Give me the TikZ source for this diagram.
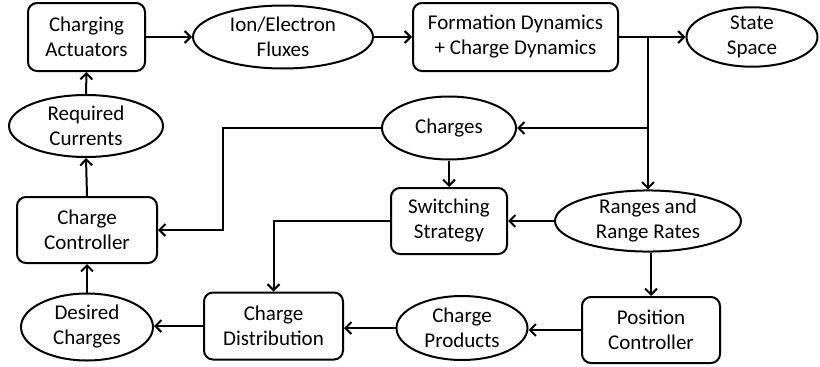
\documentclass[tikz,border=0pt]{standalone}
\usepackage{fontspec}
\setmainfont{Carlito}
\usetikzlibrary{shapes.geometric,arrows.meta}
\begin{document}
\begin{tikzpicture}[x=1pt,y=-1pt,
  every node/.style={font=\fontsize{21}{25}\selectfont, align=center, line width=2pt, draw, inner sep=0pt},
  box/.style={rectangle, rounded corners=9pt},
  oval/.style={ellipse},
  conn/.style={line width=2pt, -{Straight Barb[length=6pt,width=12pt,line width=2pt]}},
  wire/.style={line width=2pt}]
\useasboundingbox (0,0) rectangle (820,367);
\node[box, minimum width=117pt, minimum height=68pt] (ca) at (86.5,37) {Charging\\Actuators};
\node[oval, minimum width=180pt, minimum height=63pt] (ion) at (283,37) {Ion/Electron\\Fluxes};
\node[box, minimum width=205pt, minimum height=68pt] (fd) at (515.5,37) {Formation Dynamics\\+ Charge Dynamics};
\node[oval, minimum width=131pt, minimum height=57pt] (ss) at (752,37) {State\\Space};
\node[oval, minimum width=134pt, minimum height=63pt] (ch) at (449,128) {Charges};
\node[oval, minimum width=154pt, minimum height=62pt] (rc) at (86,126) {Required\\Currents};
\node[box, minimum width=140pt, minimum height=66pt] (cc) at (87,230) {Charge\\Controller};
\node[box, minimum width=116pt, minimum height=66pt] (sw) at (449,221) {Switching\\Strategy};
\node[oval, minimum width=186pt, minimum height=52pt] (rr) at (648,221) {Ranges and\\Range Rates};
\node[oval, minimum width=132pt, minimum height=67pt] (dc) at (87,327) {Desired\\Charges};
\node[box, minimum width=139pt, minimum height=67pt] (cd) at (273.5,326) {Charge\\Distribution};
\node[oval, minimum width=131pt, minimum height=64pt] (cp) at (462,328) {Charge\\Products};
\node[box, minimum width=138pt, minimum height=66pt] (pc) at (651,330) {Position\\Controller};
\coordinate (j1) at (648,37);
\coordinate (j2) at (648,128);
\coordinate (k1) at (223,128);
\draw[conn] (ca.east) -- (ion.west);
\draw[conn] (ion.east) -- (fd.west);
\draw[conn] (fd.east) -- (ss.west);
\draw[conn] (j1) -- (rr.north);
\draw[conn] (j2) -- (ch.east);
\draw[conn] (ch.west) -- (k1) |- (cc.east);
\draw[conn] (ch.south) -- (sw.north);
\draw[conn] (rr.west) -- (sw.east);
\draw[conn] (sw.west) -| (cd.north);
\draw[conn] (rr.south -| pc.north) -- (pc.north);
\draw[conn] (pc.west) -- (pc.west -| cp.east);
\draw[conn] (cp.west) -- (cp.west -| cd.east);
\draw[conn] (cd.west) -- (cd.west -| dc.east);
\draw[conn] (dc.north) -- (cc.south);
\draw[conn] (cc.north) -- (rc.south);
\draw[conn] (rc.north) -- (ca.south);
\end{tikzpicture}
\end{document}
